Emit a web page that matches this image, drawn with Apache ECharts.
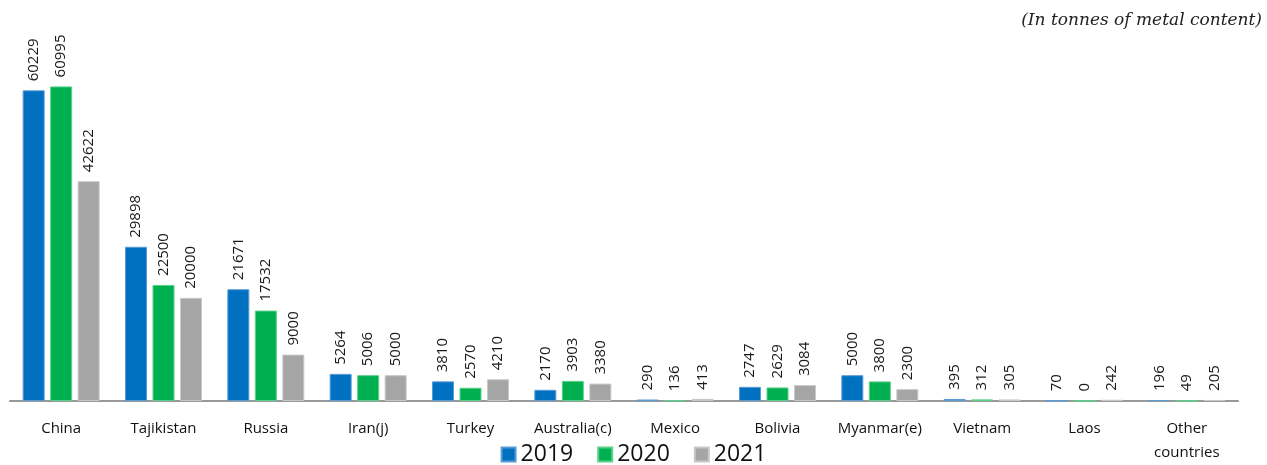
<!DOCTYPE html>
<html>
<head>
<meta charset="utf-8">
<script src="https://cdn.jsdelivr.net/npm/echarts@6/dist/echarts.min.js"></script>
<style>
html,body{margin:0;padding:0;background:#fff;}
#chart{width:1267px;height:465px;}
</style>
</head>
<body>
<div id="chart"></div>
<script>
const categories = ["China","Tajikistan","Russia","Iran(j)","Turkey","Australia(c)","Mexico","Bolivia","Myanmar(e)","Vietnam","Laos","Other countries"];
const v2019 = [60229,29898,21671,5264,3810,2170,290,2747,5000,395,70,196];
const v2020 = [60995,22500,17532,5006,2570,3903,136,2629,3800,312,0,49];
const v2021 = [42622,20000,9000,5000,4210,3380,413,3084,2300,305,242,205];
const seriesNames = ["2019","2020","2021"];
const colors = ["#0070C0","#00B050","#A5A5A5"];
const borders = ["#5B9BD5","#5BD08A","#C8C8C8"];

const chart = echarts.init(document.getElementById('chart'));
const dataSets = [v2019, v2020, v2021];
const series = dataSets.map((d, i) => ({
  name: seriesNames[i],
  type: 'bar',
  data: d,
  barWidth: 22,
  barGap: '25%',
  itemStyle: { color: colors[i], borderColor: borders[i], borderWidth: 1 },
  label: {
    show: true,
    position: 'top',
    rotate: 90,
    align: 'left',
    verticalAlign: 'middle',
    distance: 9,
    fontFamily: 'Open Sans, DejaVu Sans, sans-serif',
    fontSize: 15,
    color: '#1a1a1a'
  }
}));

chart.setOption({
  animation: false,
  color: colors,
  graphic: [{
    type: 'text',
    right: 5,
    top: 12,
    style: {
      text: '(In tonnes of metal content)',
      font: 'italic 17px "DejaVu Serif", serif',
      fill: '#222'
    }
  }],
  legend: {
    bottom: -6,
    left: 'center',
    itemWidth: 14,
    itemHeight: 14,
    itemGap: 24,
    icon: 'rect',
    textStyle: { fontSize: 23, color: '#111', fontFamily: 'Open Sans, DejaVu Sans, sans-serif' },
    data: seriesNames
  },
  grid: { left: 10, right: 29, top: 9, bottom: 64, containLabel: false },
  xAxis: {
    type: 'category',
    data: categories,
    axisLine: { lineStyle: { color: '#999', width: 2 } },
    axisTick: { show: false },
    axisLabel: {
      fontSize: 15,
      color: '#111',
      margin: 16,
      interval: 0,
      lineHeight: 24,
      fontFamily: 'Open Sans, DejaVu Sans, sans-serif',
      formatter: v => v.replace(' ', '\n')
    }
  },
  yAxis: {
    type: 'value',
    min: 0,
    max: 76000,
    show: false,
    splitLine: { show: false }
  },
  series: series
});
</script>
</body>
</html>
